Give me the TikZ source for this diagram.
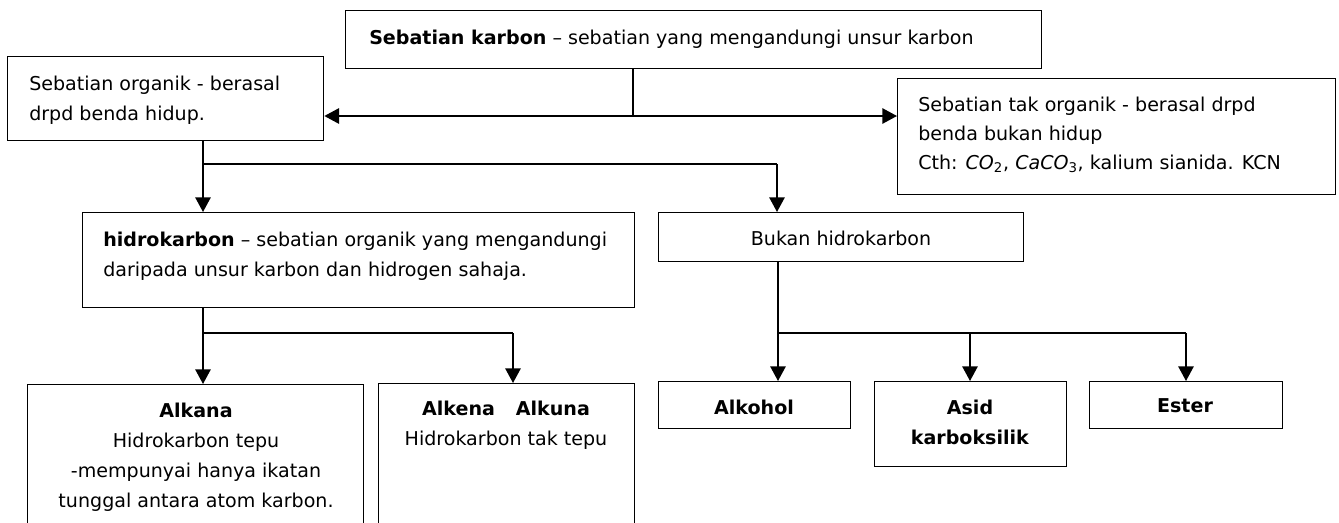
\documentclass[tikz,border=0pt]{standalone}
\usepackage{fontspec}
\setmainfont{DejaVu Sans}
\usetikzlibrary{arrows.meta}
\begin{document}
\begin{tikzpicture}[x=0.75pt,y=-0.75pt,
  box/.style={draw, line width=1pt, inner sep=0pt, anchor=north west},
  txt/.style={inner sep=0pt, font=\fontsize{14.3}{22.5}\selectfont},
  conn/.style={line width=1.3pt},
  arr/.style={line width=1.3pt, -{Triangle[length=11pt,width=11.5pt]}},
  bar/.style={line width=2.2pt}]
\clip (0,0) rectangle (1339,522);
% boxes
\node[box, minimum width=696*0.75pt, minimum height=58*0.75pt] (top) at (345,10) {};
\node[box, minimum width=316*0.75pt, minimum height=84*0.75pt] (org) at (7,56) {};
\node[box, minimum width=438*0.75pt, minimum height=116*0.75pt] (inorg) at (897,78) {};
\node[box, minimum width=552*0.75pt, minimum height=95*0.75pt] (hid) at (82,212) {};
\node[box, minimum width=365*0.75pt, minimum height=49*0.75pt] (buk) at (658,212) {};
\node[box, minimum width=336*0.75pt, minimum height=170*0.75pt] (alkana) at (27,384) {};
\node[box, minimum width=256*0.75pt, minimum height=170*0.75pt] (alkena) at (378,383) {};
\node[box, minimum width=192*0.75pt, minimum height=47*0.75pt] (alkohol) at (658,381) {};
\node[box, minimum width=192*0.75pt, minimum height=85*0.75pt] (asid) at (874,381) {};
\node[box, minimum width=193*0.75pt, minimum height=47*0.75pt] (ester) at (1089,381) {};
% texts
\node[txt, anchor=west] (topT) at (369,39) {\textbf{Sebatian karbon} -- sebatian yang mengandungi unsur karbon};
\node[txt, anchor=west, align=left] (orgT) at (29,100) {Sebatian organik - berasal\\drpd benda hidup.};
\node[txt, anchor=west, align=left, font=\fontsize{14.3}{21.4}\selectfont] (inorgT) at (918,135) {Sebatian tak organik - berasal drpd\\benda bukan hidup\\Cth: \textit{CO}\textsubscript{2}, \textit{CaCO}\textsubscript{3}, kalium sianida. KCN};
\node[txt, anchor=west, align=left] (hidT) at (103,256) {\textbf{hidrokarbon} -- sebatian organik yang mengandungi\\daripada unsur karbon dan hidrogen sahaja.};
\node[txt] (bukT) at (841,238) {Bukan hidrokarbon};
\node[txt, align=center] (alkanaT) at (196,457) {\textbf{Alkana}\\Hidrokarbon tepu\\-mempunyai hanya ikatan\\tunggal antara atom karbon.};
\node[txt, align=center] (alkenaT) at (506,425) {\textbf{Alkena\hspace{1.1em}Alkuna}\\Hidrokarbon tak tepu};
\node[txt] (alkoholT) at (754,407) {\textbf{Alkohol}};
\node[txt, align=center] (asidT) at (970,422) {\textbf{Asid}\\\textbf{karboksilik}};
\node[txt] (esterT) at (1185,406) {\textbf{Ester}};
% junctions
\coordinate (j1) at (633,116);
\coordinate (j2) at (203,164);
\coordinate (j2b) at (777,164);
\coordinate (j3) at (203,333);
\coordinate (j3b) at (513,333);
\coordinate (j4) at (778,333);
\coordinate (j4b) at (970,333);
\coordinate (j4c) at (1186,333);
% connectors
\draw[conn] (top.south -| j1) -- (j1);
\draw[arr] (j1) -- (org.east |- j1);
\draw[arr] (j1) -- (inorg.west |- j1);
\draw[arr] (org.south -| j2) -- (hid.north -| j2);
\draw[bar] (j2) -- (j2b);
\draw[arr] (j2b) -- (buk.north -| j2b);
\draw[arr] (hid.south -| j3) -- (alkana.north -| j3);
\draw[bar] (j3) -- (j3b);
\draw[arr] (j3b) -- (alkena.north -| j3b);
\draw[arr] (buk.south -| j4) -- (alkohol.north -| j4);
\draw[bar] (j4) -- (j4c);
\draw[arr] (j4b) -- (asid.north -| j4b);
\draw[arr] (j4c) -- (ester.north -| j4c);
\end{tikzpicture}
\end{document}
